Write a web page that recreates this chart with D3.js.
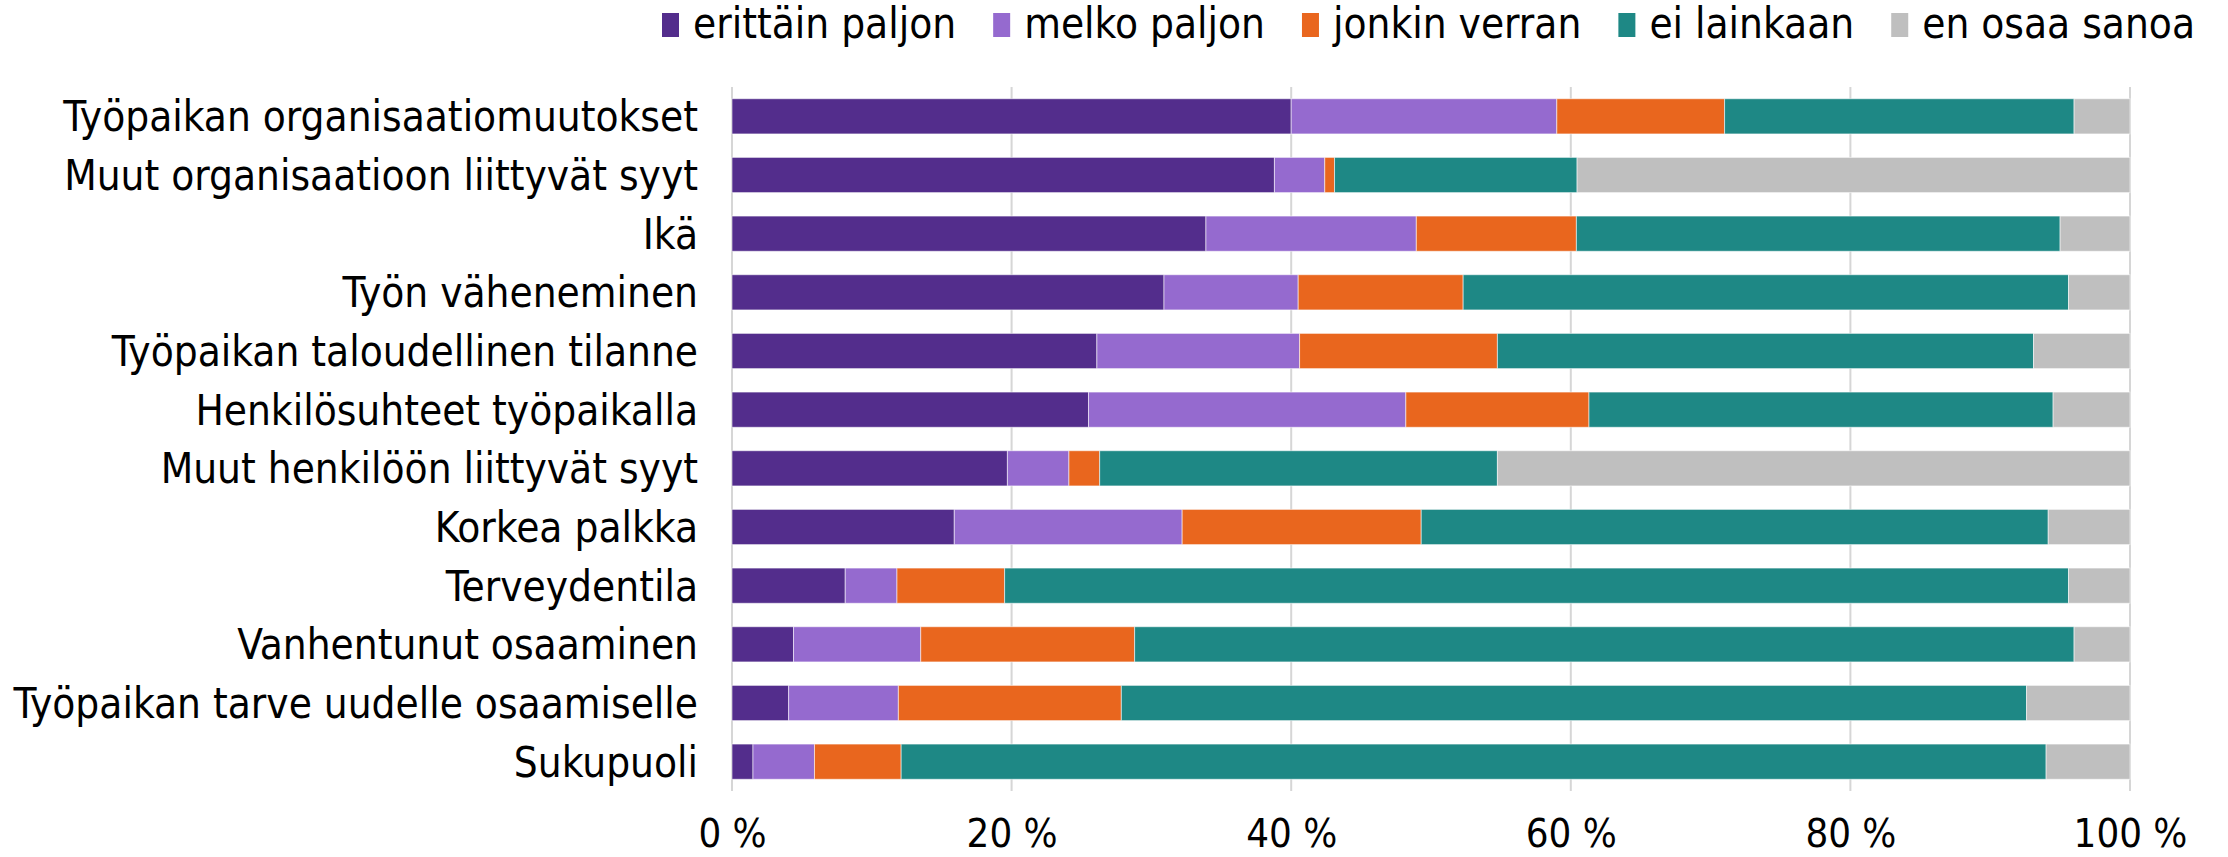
<!DOCTYPE html>
<html>
<head>
<meta charset="utf-8">
<script src="https://cdn.jsdelivr.net/npm/d3@7"></script>
<style>
  html, body { margin: 0; padding: 0; background: #fff; }
  svg { display: block; }
  text { font-family: "DejaVu Sans Condensed", "DejaVu Sans", Verdana, sans-serif; fill: #000; }
</style>
</head>
<body>
<svg id="chart" width="2228" height="857"></svg>
<script>
const categories = [
  "Työpaikan organisaatiomuutokset",
  "Muut organisaatioon liittyvät syyt",
  "Ikä",
  "Työn väheneminen",
  "Työpaikan taloudellinen tilanne",
  "Henkilösuhteet työpaikalla",
  "Muut henkilöön liittyvät syyt",
  "Korkea palkka",
  "Terveydentila",
  "Vanhentunut osaaminen",
  "Työpaikan tarve uudelle osaamiselle",
  "Sukupuoli"
];
const seriesNames = ["erittäin paljon", "melko paljon", "jonkin verran", "ei lainkaan", "en osaa sanoa"];
const erittainPaljon = [40.0, 38.8, 33.9, 30.9, 26.1, 25.5, 19.7, 15.9, 8.1, 4.4, 4.05, 1.5];
const melkoPaljon    = [19.0, 3.6, 15.05, 9.6, 14.5, 22.7, 4.4, 16.3, 3.7, 9.1, 7.85, 4.4];
const jonkinVerran   = [12.0, 0.7, 11.45, 11.8, 14.15, 13.1, 2.2, 17.1, 7.7, 15.3, 15.95, 6.2];
const eiLainkaan     = [25.0, 17.35, 34.6, 43.3, 38.35, 33.2, 28.45, 44.85, 76.1, 67.2, 64.75, 81.9];
const enOsaaSanoa    = [4.0, 39.55, 5.0, 4.4, 6.9, 5.5, 45.25, 5.85, 4.4, 4.0, 7.4, 6.0];
const xTicks = [0, 20, 40, 60, 80, 100];
const colors = ["#532d8c", "#956acf", "#e9661e", "#1e8885", "#bfbfbf"];

const seriesValues = [erittainPaljon, melkoPaljon, jonkinVerran, eiLainkaan, enOsaaSanoa];
const rows = categories.map((c, i) => {
  const o = { category: c };
  seriesNames.forEach((s, j) => { o[s] = seriesValues[j][i]; });
  return o;
});

const svg = d3.select("#chart");

function fitSize(str, target, base) {
  const t = svg.append("text").attr("font-size", base).text(str);
  const w = t.node().getComputedTextLength();
  t.remove();
  return base * target / w;
}
const labelSize = fitSize("Työpaikan organisaatiomuutokset", 635, 40);
const tickFont = labelSize * 0.95;

const margin = { left: 732, right: 98, top: 87, bottom: 66 };
const W = 2228, H = 857;

const x = d3.scaleLinear().domain([0, 100]).range([margin.left, W - margin.right]);
const y = d3.scaleBand().domain(categories).range([margin.top, H - margin.bottom])
  .paddingInner(0.4).paddingOuter(0.2);

// gridlines
svg.append("g").selectAll("line").data(xTicks).join("line")
  .attr("x1", d => x(d)).attr("x2", d => x(d))
  .attr("y1", margin.top).attr("y2", H - margin.bottom)
  .attr("stroke", "#d6d6d6").attr("stroke-width", 2);

// stacked bars
const stack = d3.stack().keys(seriesNames);
const stacked = stack(rows);
svg.append("g").selectAll("g").data(stacked).join("g")
  .attr("fill", (d, i) => colors[i])
  .selectAll("rect").data(d => d).join("rect")
  .attr("x", d => x(d[0]))
  .attr("width", d => x(d[1]) - x(d[0]))
  .attr("y", d => y(d.data.category))
  .attr("height", y.bandwidth())
  .attr("stroke", "#ffffff").attr("stroke-opacity", 0.55).attr("stroke-width", 1);

// y labels
svg.append("g").selectAll("text").data(categories).join("text")
  .attr("x", margin.left - 34)
  .attr("y", d => y(d) + y.bandwidth() / 2)
  .attr("dy", "0.36em")
  .attr("text-anchor", "end")
  .attr("font-size", labelSize)
  .text(d => d);

// x axis
const xAxis = svg.append("g")
  .attr("transform", `translate(0,${H - margin.bottom})`)
  .call(d3.axisBottom(x).tickValues(xTicks).tickFormat(d => d + " %").tickSize(0).tickPadding(28));
xAxis.select(".domain").remove();
xAxis.selectAll("text").attr("font-size", tickFont)
  .attr("font-family", "DejaVu Sans Condensed, DejaVu Sans, Verdana, sans-serif").attr("fill", "#000");

// legend spanning the reference extent
const legend = svg.append("g");
const items = seriesNames.map((s, i) => {
  const g = legend.append("g");
  g.append("rect").attr("x", 0).attr("y", 13).attr("width", 17).attr("height", 24).attr("fill", colors[i]);
  const t = g.append("text").attr("x", 31).attr("y", 38).attr("font-size", labelSize).text(s);
  return { g, w: 31 + t.node().getComputedTextLength() };
});
const legendStart = 662, legendEnd = 2195;
const gap = (legendEnd - legendStart - d3.sum(items, d => d.w)) / (items.length - 1);
let lx = legendStart;
items.forEach(it => { it.g.attr("transform", `translate(${lx},0)`); lx += it.w + gap; });
</script>
</body>
</html>
